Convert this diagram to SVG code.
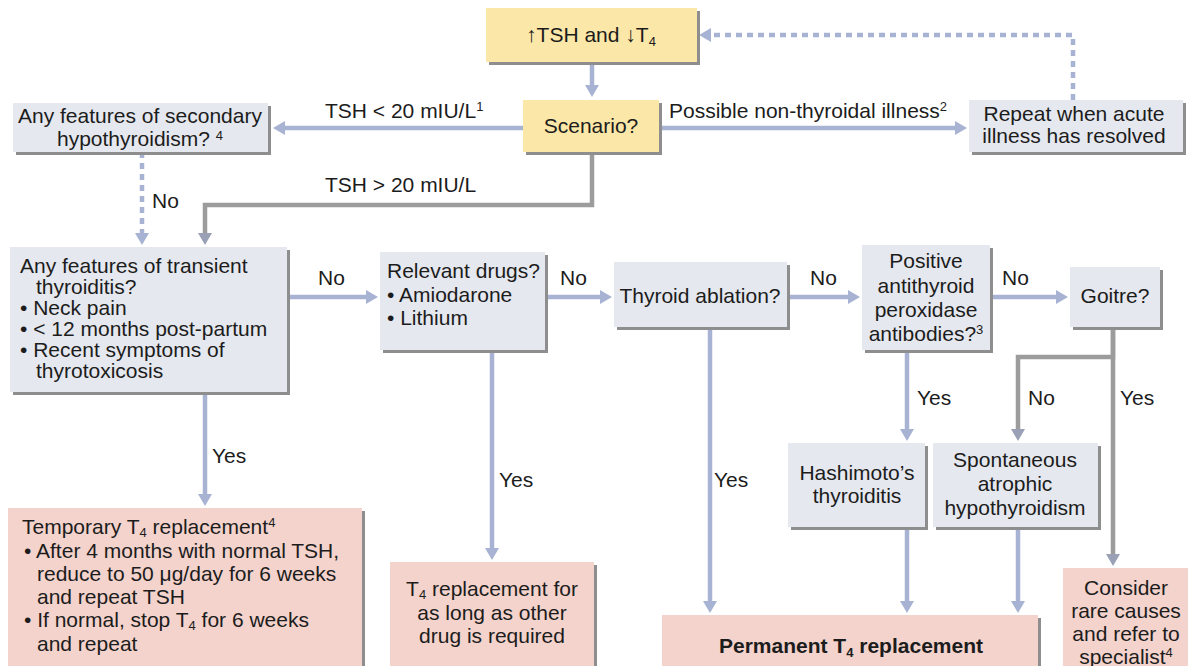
<svg xmlns="http://www.w3.org/2000/svg" width="1188" height="666" viewBox="0 0 1188 666">
<defs>
<style>
text { font-family: "Liberation Sans", Arial, sans-serif; font-size: 21px; fill: #1c1c1c; }
.c { text-anchor: middle; }
.b { font-weight: bold; }
.s { font-size: 13px; }
.sh { fill: #8e8e8e; }
.yel { fill: #fbe7a8; }
.gry { fill: #e5e8ee; }
.pnk { fill: #f3d3cc; }
.ln { fill: none; stroke: #a8b3d3; stroke-width: 4.5; }
.lg { fill: none; stroke: #9c9c9c; stroke-width: 4.5; }
.dash { stroke-dasharray: 6 5; }
</style>
<marker id="ah" markerUnits="userSpaceOnUse" viewBox="0 0 14 14" markerWidth="14" markerHeight="14" refX="4" refY="7" orient="auto"><path d="M0,0 L12,7 L0,14 z" fill="#a8b3d3"/></marker>
<marker id="ahg" markerUnits="userSpaceOnUse" viewBox="0 0 14 14" markerWidth="14" markerHeight="14" refX="4" refY="7" orient="auto"><path d="M0,0 L12,7 L0,14 z" fill="#9aa1b6"/></marker>
</defs>
<rect width="1188" height="666" fill="#ffffff"/>

<g id="connectors">
  <path class="ln" d="M592,62 V89" marker-end="url(#ah)"/>
  <path class="ln" d="M523,128 H281" marker-end="url(#ah)"/>
  <path class="ln" d="M659,128 H959" marker-end="url(#ah)"/>
  <path class="ln dash" d="M1073,100 V35 H707" marker-end="url(#ah)"/>
  <path class="lg" d="M592,152 V205 H205 V237" marker-end="url(#ahg)"/>
  <path class="ln dash" d="M142,152 V237" marker-end="url(#ah)"/>
  <path class="ln" d="M287,297 H370" marker-end="url(#ah)"/>
  <path class="ln" d="M545,297 H604" marker-end="url(#ah)"/>
  <path class="ln" d="M787,297 H852" marker-end="url(#ah)"/>
  <path class="ln" d="M990,297 H1060" marker-end="url(#ah)"/>
  <path class="ln" d="M205,392 V498" marker-end="url(#ah)"/>
  <path class="ln" d="M492,350 V552" marker-end="url(#ah)"/>
  <path class="ln" d="M710,327 V605" marker-end="url(#ah)"/>
  <path class="ln" d="M907,350 V433" marker-end="url(#ah)"/>
  <path class="lg" d="M1113,327 V357 H1018 V433" marker-end="url(#ahg)"/>
  <path class="lg" d="M1113,327 V558" marker-end="url(#ahg)"/>
  <path class="ln" d="M907,527 V605" marker-end="url(#ah)"/>
  <path class="ln" d="M1018,527 V605" marker-end="url(#ah)"/>
  <text x="325" y="118">TSH &lt; 20 mIU/L<tspan class="s" dy="-7">1</tspan></text>
  <text x="669" y="118">Possible non-thyroidal illness<tspan class="s" dy="-7">2</tspan></text>
  <text x="325" y="192">TSH &gt; 20 mIU/L</text>
  <text x="152" y="208">No</text>
  <text x="318" y="285">No</text>
  <text x="560" y="285">No</text>
  <text x="810" y="285">No</text>
  <text x="1002" y="285">No</text>
  <text x="212" y="463">Yes</text>
  <text x="499" y="487">Yes</text>
  <text x="714" y="487">Yes</text>
  <text x="917" y="405">Yes</text>
  <text x="1028" y="405">No</text>
  <text x="1120" y="405">Yes</text>
</g>

<g id="top">
  <rect class="sh" x="489" y="11" width="211" height="54"/>
  <rect class="yel" x="486" y="8" width="211" height="54"/>
  <text class="c" x="591" y="42">↑TSH and ↓T<tspan class="s" dy="4">4</tspan></text>
</g>
<g id="scenario">
  <rect class="sh" x="526" y="103" width="136" height="52"/>
  <rect class="yel" x="523" y="100" width="136" height="52"/>
  <text class="c" x="591" y="133">Scenario?</text>
</g>
<g id="secondary">
  <rect class="sh" x="16" y="106" width="255" height="49"/>
  <rect class="gry" x="13" y="103" width="255" height="49"/>
  <text class="c" x="140" y="123">Any features of secondary</text>
  <text class="c" x="140" y="146">hypothyroidism? <tspan class="s" dy="-6">4</tspan></text>
</g>
<g id="repeat">
  <rect class="sh" x="972" y="103" width="214" height="52"/>
  <rect class="gry" x="969" y="100" width="214" height="52"/>
  <text class="c" x="1074" y="121">Repeat when acute</text>
  <text class="c" x="1074" y="143">illness has resolved</text>
</g>
<g id="transient">
  <rect class="sh" x="13" y="250" width="277" height="145"/>
  <rect class="gry" x="10" y="247" width="277" height="145"/>
  <text x="20" y="273">Any features of transient</text>
  <text x="36" y="294">thyroiditis?</text>
  <text x="20" y="315">• Neck pain</text>
  <text x="20" y="336">• &lt; 12 months post-partum</text>
  <text x="20" y="357">• Recent symptoms of</text>
  <text x="36" y="378">thyrotoxicosis</text>
</g>
<g id="drugs">
  <rect class="sh" x="383" y="255" width="165" height="98"/>
  <rect class="gry" x="380" y="252" width="165" height="98"/>
  <text x="387" y="278">Relevant drugs?</text>
  <text x="387" y="302">• Amiodarone</text>
  <text x="387" y="325">• Lithium</text>
</g>
<g id="ablation">
  <rect class="sh" x="617" y="265" width="173" height="65"/>
  <rect class="gry" x="614" y="262" width="173" height="65"/>
  <text class="c" x="700" y="303">Thyroid ablation?</text>
</g>
<g id="antibodies">
  <rect class="sh" x="865" y="248" width="128" height="105"/>
  <rect class="gry" x="862" y="245" width="128" height="105"/>
  <text class="c" x="926" y="268">Positive</text>
  <text class="c" x="926" y="293">antithyroid</text>
  <text class="c" x="926" y="317">peroxidase</text>
  <text class="c" x="926" y="341">antibodies?<tspan class="s" dy="-7">3</tspan></text>
</g>
<g id="goitre">
  <rect class="sh" x="1073" y="270" width="90" height="60"/>
  <rect class="gry" x="1070" y="267" width="90" height="60"/>
  <text class="c" x="1115" y="303">Goitre?</text>
</g>
<g id="hashimoto">
  <rect class="sh" x="791" y="446" width="137" height="84"/>
  <rect class="gry" x="788" y="443" width="137" height="84"/>
  <text class="c" x="857" y="480">Hashimoto’s</text>
  <text class="c" x="857" y="503">thyroiditis</text>
</g>
<g id="spontaneous">
  <rect class="sh" x="936" y="446" width="165" height="84"/>
  <rect class="gry" x="933" y="443" width="165" height="84"/>
  <text class="c" x="1015" y="467">Spontaneous</text>
  <text class="c" x="1015" y="491">atrophic</text>
  <text class="c" x="1015" y="515">hypothyroidism</text>
</g>
<g id="temporary">
  <rect class="sh" x="11" y="511" width="354" height="160"/>
  <rect class="pnk" x="8" y="508" width="354" height="160"/>
  <text x="22" y="534">Temporary T<tspan class="s" dy="3">4</tspan><tspan dy="-3"> replacement</tspan><tspan class="s" dy="-7">4</tspan></text>
  <text x="24" y="558">• After 4 months with normal TSH,</text>
  <text x="37" y="581">reduce to 50 μg/day for 6 weeks</text>
  <text x="37" y="604">and repeat TSH</text>
  <text x="24" y="627">• If normal, stop T<tspan class="s" dy="3">4</tspan><tspan dy="-3"> for 6 weeks</tspan></text>
  <text x="37" y="651">and repeat</text>
</g>
<g id="drug-replacement">
  <rect class="sh" x="393" y="565" width="204" height="106"/>
  <rect class="pnk" x="390" y="562" width="204" height="106"/>
  <text class="c" x="492" y="596">T<tspan class="s" dy="3">4</tspan><tspan dy="-3"> replacement for</tspan></text>
  <text class="c" x="492" y="620">as long as other</text>
  <text class="c" x="492" y="643">drug is required</text>
</g>
<g id="permanent">
  <rect class="sh" x="665" y="618" width="376" height="53"/>
  <rect class="pnk" x="662" y="615" width="376" height="53"/>
  <text class="c b" x="851" y="653">Permanent T<tspan class="s" dy="4">4</tspan><tspan dy="-4"> replacement</tspan></text>
</g>
<g id="consider">
  <rect class="pnk" x="1063" y="568" width="130" height="100"/>
  <text class="c" x="1126" y="595">Consider</text>
  <text class="c" x="1126" y="618">rare causes</text>
  <text class="c" x="1126" y="641">and refer to</text>
  <text class="c" x="1126" y="664">specialist<tspan class="s" dy="-7">4</tspan></text>
</g>
</svg>
